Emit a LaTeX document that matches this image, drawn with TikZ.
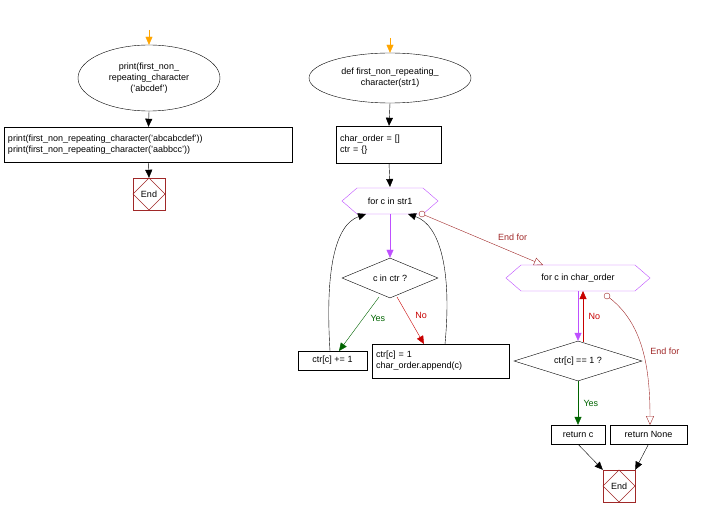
\documentclass[tikz,border=0pt]{standalone}
\usepackage{fontspec}
\setmainfont{Liberation Sans}
\usetikzlibrary{shapes.geometric,arrows.meta,positioning}
\definecolor{endred}{RGB}{160,40,40}
\definecolor{loopv}{RGB}{190,80,255}
\definecolor{yesg}{RGB}{0,100,0}
\definecolor{nor}{RGB}{200,0,0}
\definecolor{startor}{RGB}{255,165,0}
\tikzset{
  decide/.style={draw, diamond, inner sep=0pt, aspect=2.4},
  flow/.style={-{Triangle[length=8pt,width=7pt]}},
  lbl/.style={font=\small}
}
\begin{document}
\begin{tikzpicture}[x=1pt,y=-1pt,font=\small]
  \useasboundingbox (0,0) rectangle (708,518);
  \newcommand{\hexnode}[4]{%
    \draw[loopv] (#1-#3,#2) -- (#1-#3+15,#2-13) -- (#1+#3-15,#2-13) -- (#1+#3,#2) -- (#1+#3-15,#2+13) -- (#1-#3+15,#2+13) -- cycle;
    \node (#4) at (#1,#2) {};}
  \newcommand{\stopnode}[2]{%
    \draw[endred] (#1-16,#2-16) rectangle (#1+16,#2+16);
    \draw[endred] (#1,#2-16) -- (#1+16,#2) -- (#1,#2+16) -- (#1-16,#2) -- cycle;}

  % left part
  \coordinate (ls) at (149,30);
  \node[draw, ellipse, minimum width=142, minimum height=66, align=center, inner sep=0pt] (lcall) at (149,78) {print(first\_non\_\\repeating\_character\\('abcdef')};
  \node[draw, minimum width=287, minimum height=35, align=left, text width=281] (lprint) at (148.5,144.5) {print(first\_non\_repeating\_character('abcabcdef'))\\print(first\_non\_repeating\_character('aabbcc'))};
  \stopnode{149}{194}
  \node[minimum size=32] (lend) at (149,194) {End};
  \draw[flow, startor] (ls) -- (lcall.north);
  \draw[flow] (lcall.south) -- (lprint.north);
  \draw[flow] (lprint.south) -- (lend.north);

  % function
  \coordinate (rs) at (390,38);
  \node[draw, ellipse, minimum width=162, minimum height=50, align=center, inner sep=0pt] (def) at (390,78) {def first\_non\_repeating\_\\character(str1)};
  \node[draw, minimum width=104, minimum height=37, align=left, text width=98] (init) at (389,144.5) {char\_order = []\\ctr = \{\}};
  \hexnode{390}{201}{48}{for1}
  \node at (390,201) {for c in str1};
  \node[decide, minimum width=96, minimum height=40] (inctr) at (390,278) {c in ctr ?};
  \node[draw, minimum width=69, minimum height=19] (inc) at (332.5,360.5) {ctr[c] += 1};
  \node[draw, minimum width=136, minimum height=34, align=left, text width=130] (add) at (441,361) {ctr[c] = 1\\char\_order.append(c)};
  \hexnode{578}{278}{72}{for2}
  \node at (578,278) {for c in char\_order};
  \node[decide, minimum width=128, minimum height=40] (one) at (578,361) {ctr[c] == 1 ?};
  \node[draw, minimum width=54, minimum height=19] (retc) at (578,434.5) {return c};
  \node[draw, minimum width=77, minimum height=19] (retn) at (648.5,434.5) {return None};
  \stopnode{619}{486}
  \node[minimum size=32] (rend) at (619,486) {End};
  \coordinate (for1a) at (390,214);
  \coordinate (for1b) at (422,214);
  \coordinate (for2a) at (578,291);
  \coordinate (for2b) at (583,291);
  \coordinate (for2c) at (607,296);
  \coordinate (for2d) at (543,265);

  \draw[flow, startor] (rs) -- (def.north);
  \draw[flow] (def.south) -- (init.north);
  \draw[flow] (init.south) -- (390,187);
  \draw[flow, loopv] (for1a) -- (inctr.north);
  \draw[flow, yesg] (379,297) -- node[lbl, right, pos=0.4, xshift=4pt] {Yes} (339,351);
  \draw[flow, nor] (397,297) -- node[lbl, right, pos=0.4, xshift=4pt] {No} (424,344);
  \draw[flow] (330,351) .. controls (325,270) and (335,225) .. (366,214);
  \draw[flow] (445,344) .. controls (452,270) and (440,225) .. (408,214);
  \draw[endred, -{Triangle[open,length=9pt,width=8pt]}] (for1b) -- node[lbl, above right, pos=0.6] {End for} (for2d);
  \draw[endred, fill=white] (for1b) circle (3);
  \draw[flow, loopv] (for2a) -- (one.north);
  \draw[flow, nor] (583,342) -- node[lbl, right, xshift=2pt] {No} (for2b);
  \draw[flow, yesg] (one.south) -- node[lbl, right, xshift=2pt] {Yes} (retc.north);
  \draw[endred, -{Triangle[open,length=9pt,width=8pt]}] (for2c) .. controls (640,320) and (650,360) .. node[lbl, right, pos=0.55, xshift=4pt] {End for} (650,425);
  \draw[endred, fill=white] (for2c) circle (3);
  \draw[flow] (retc.south) -- (rend.north west);
  \draw[flow] (retn.south) -- (rend.north east);
\end{tikzpicture}
\end{document}
